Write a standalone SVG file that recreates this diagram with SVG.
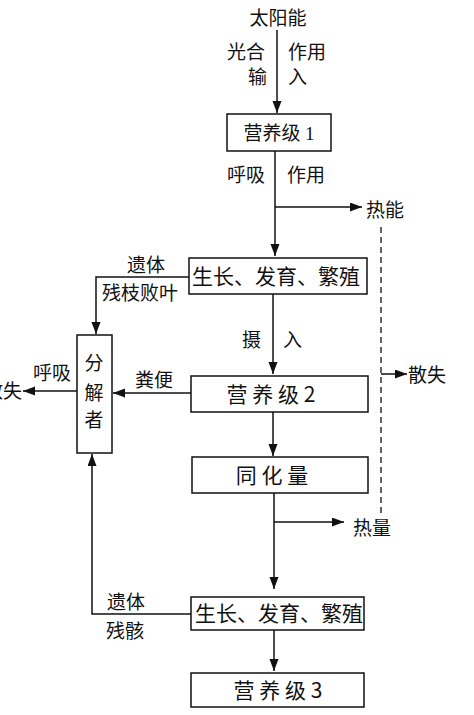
<svg xmlns="http://www.w3.org/2000/svg" width="474" height="715" viewBox="0 0 474 715">
<defs>
<marker id="ah" markerUnits="userSpaceOnUse" markerWidth="13" markerHeight="10" refX="12" refY="4.5" orient="auto">
<path d="M0,0 L12,4.5 L0,9 Z" fill="#111"/>
</marker>
<style>
text{font-family:"Noto Sans CJK SC","Noto Sans",sans-serif;font-size:19px;fill:#111}
.bx{fill:#fff;stroke:#111;stroke-width:1.5}
.ln{fill:none;stroke:#111;stroke-width:1.5}
.ar{fill:none;stroke:#111;stroke-width:1.5;marker-end:url(#ah)}
.big{font-size:21px}
.mid{text-anchor:middle}
.dash{fill:none;stroke:#111;stroke-width:1.3;stroke-dasharray:6,4}
</style>
</defs>
<rect width="474" height="715" fill="#fff"/>
<g id="connectors">
<path class="ar" d="M277,30 V113"/>
<path class="ar" d="M275,151 V256"/>
<path class="ar" d="M275,207 H362"/>
<path class="ar" d="M273,294 V374"/>
<path class="ar" d="M273,412 V456"/>
<path class="ar" d="M274,493 V589"/>
<path class="ar" d="M274,522 H344"/>
<path class="ar" d="M274,630 V671"/>
<path class="ar" d="M189,277 H96 V334"/>
<path class="ar" d="M191,393 H113"/>
<path class="ar" d="M77,391 H23"/>
<path class="ar" d="M191,614 H92 V454"/>
<path class="dash" d="M381,227 V513"/>
<path class="ar" d="M381,374 H407"/>
</g>
<g id="sun"><text x="278" y="25" class="mid">太阳能</text></g>
<g id="label-photo">
<text x="227" y="59">光合</text>
<text x="288" y="59">作用</text>
<text x="248" y="84">输</text>
<text x="288" y="84">入</text>
</g>
<g id="level1">
<rect class="bx" x="227" y="114" width="104" height="37"/>
<text x="279" y="140" class="mid">营养级 <tspan font-family="Liberation Serif,serif">1</tspan></text>
</g>
<g id="label-resp"><text x="227" y="182">呼吸</text><text x="287" y="182">作用</text></g>
<g id="heat1"><text x="366" y="217">热能</text></g>
<g id="growth1">
<rect class="bx" x="189" y="258" width="178" height="36"/>
<text x="276" y="284" class="mid big">生长、发育、繁殖</text>
</g>
<g id="label-remains1"><text x="127" y="272">遗体</text><text x="102" y="300">残枝败叶</text></g>
<g id="label-intake"><text x="242" y="347">摄</text><text x="283" y="347">入</text></g>
<g id="decomposer">
<rect class="bx" x="77" y="335" width="35" height="118"/>
<text x="94" y="370" class="mid">分</text>
<text x="94" y="400" class="mid">解</text>
<text x="94" y="427" class="mid">者</text>
</g>
<g id="label-resp2"><text x="33" y="380">呼吸</text></g>
<g id="loss-left"><text x="22" y="398" text-anchor="end">散失</text></g>
<g id="label-feces"><text x="135" y="387">粪便</text></g>
<g id="level2">
<rect class="bx" x="191" y="376" width="177" height="36"/>
<text x="271" y="402" class="mid big">营 养 级 2</text>
</g>
<g id="loss-right"><text x="408" y="382">散失</text></g>
<g id="assim">
<rect class="bx" x="192" y="457" width="176" height="36"/>
<text x="272" y="483" class="mid big">同 化 量</text>
</g>
<g id="heat2"><text x="353" y="535">热量</text></g>
<g id="growth2">
<rect class="bx" x="191" y="597" width="173" height="33"/>
<text x="279" y="621" class="mid big">生长、发育、繁殖</text>
</g>
<g id="label-remains2"><text x="107" y="609">遗体</text><text x="106" y="638">残骸</text></g>
<g id="level3">
<rect class="bx" x="191" y="673" width="173" height="34"/>
<text x="278" y="698" class="mid big">营 养 级 3</text>
</g>
</svg>
